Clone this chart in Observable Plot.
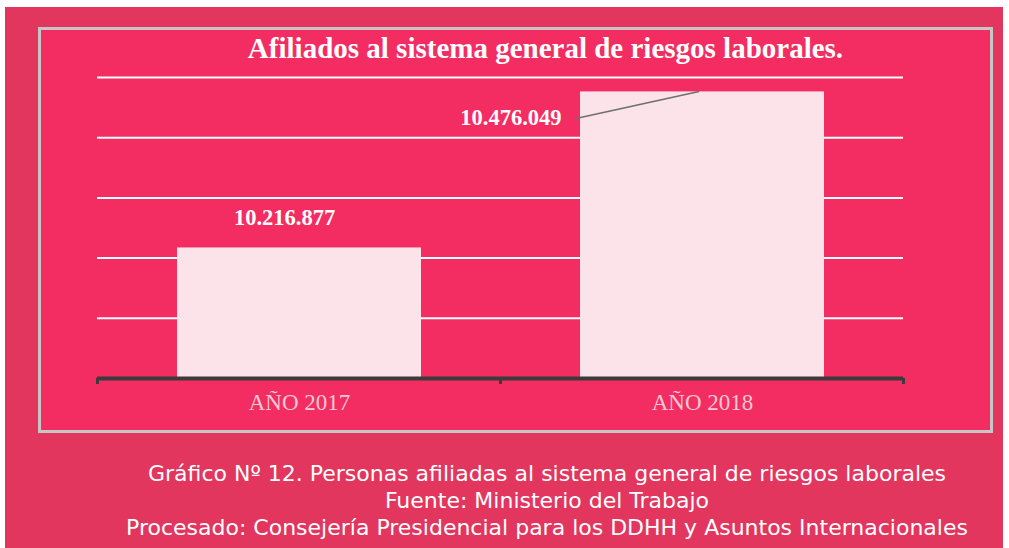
<!DOCTYPE html>
<html><head><meta charset="utf-8">
<script src="https://cdn.jsdelivr.net/npm/d3@7"></script>
<script src="https://cdn.jsdelivr.net/npm/@observablehq/plot@0.6"></script>
<style>
body{margin:0;background:#fff;width:1009px;height:548px;overflow:hidden;position:relative;}
#outer{position:absolute;left:5px;top:7px;width:998px;height:541px;background:#e2365f;}
#inner{position:absolute;left:33px;top:20px;width:955px;height:406px;background:#f32d62;box-shadow:inset 0 0 0 3px #c6c6c6;}
#title{position:absolute;left:30px;top:4px;width:955px;text-align:center;color:#fff;font-family:"Liberation Serif",serif;font-weight:bold;font-size:29px;line-height:34px;white-space:nowrap;}
#chart{position:absolute;left:0;top:0;}
#caption{position:absolute;left:95px;top:453px;width:894px;text-align:center;color:#fff;font-family:"DejaVu Sans",sans-serif;font-size:22px;line-height:27px;white-space:nowrap;}
</style></head>
<body>
<div id="outer">
  <div id="inner"><div id="chart"></div><div id="title"></div></div>
  <div id="caption"></div>
</div>
<script>
const years = ["AÑO 2017", "AÑO 2018"];
const afiliados = [10216877, 10476049];
const valueLabels = ["10.216.877", "10.476.049"];
const gridValues = [10100000, 10200000, 10300000, 10400000, 10500000];
const yDomain = [10000000, 10500000];
const titleText = "Afiliados al sistema general de riesgos laborales.";
const captionLines = [
  "Gráfico Nº 12. Personas afiliadas al sistema general de riesgos laborales",
  "Fuente: Ministerio del Trabajo",
  "Procesado: Consejería Presidencial para los DDHH y Asuntos Internacionales"
];

const data = years.map((y, i) => ({year: y, value: afiliados[i], label: valueLabels[i]}));

document.getElementById("title").textContent = titleText;
document.getElementById("caption").innerHTML = captionLines.map(s => `<div>${s}</div>`).join("");

function bandTicks(index, scales) {
  const x = scales.x, y = scales.y;
  const step = x.step(), bw = x.bandwidth(), gap = (step - bw) / 2;
  const xs = [x(years[0]) - gap, ...years.map(d => x(d) + bw + gap)];
  const y0 = y(yDomain[0]);
  const g = d3.create("svg:g");
  g.selectAll("line").data(xs).join("line")
    .attr("x1", d => d).attr("x2", d => d)
    .attr("y1", y0).attr("y2", y0 + 6)
    .attr("stroke", "#3b3b3b").attr("stroke-width", 3);
  return g.node();
}

function leader(index, scales) {
  const x = scales.x, y = scales.y, bw = x.bandwidth();
  const yTop = y(afiliados[1]);
  const g = d3.create("svg:g");
  g.append("line")
    .attr("x1", x(years[1]) - 4).attr("y1", yTop + 27)
    .attr("x2", x(years[1]) + bw / 2 - 3).attr("y2", yTop)
    .attr("stroke", "#6f6f6f").attr("stroke-width", 1.6);
  return g.node();
}

const labelStyle = {fill: "#fff", fontFamily: "Liberation Serif", fontWeight: "bold", fontSize: 22.5};

const chart = Plot.plot({
  width: 955, height: 406,
  marginLeft: 59, marginRight: 90, marginTop: 50, marginBottom: 55,
  x: {domain: years, paddingInner: 0.395, paddingOuter: 0.1975},
  y: {domain: yDomain, axis: null},
  style: {background: "transparent", overflow: "visible"},
  marks: [
    Plot.ruleY(gridValues, {stroke: "#fff", strokeWidth: 2}),
    Plot.barY(data, {x: "year", y1: () => yDomain[0], y2: "value", fill: "#fbe3e9"}),
    Plot.ruleY([yDomain[0]], {stroke: "#3b3b3b", strokeWidth: 4}),
    bandTicks,
    Plot.axisX({tickSize: 0, tickPadding: 15, label: null, fontSize: 23, fontFamily: "Liberation Serif", fill: "#f8c8d4"}),
    Plot.text(data.filter((d, i) => i === 0), {x: "year", y: "value", text: "label", dx: -15, dy: -30, ...labelStyle}),
    Plot.text(data.filter((d, i) => i === 1), {x: "year", y: "value", text: "label", dx: -141, dy: 26, textAnchor: "end", ...labelStyle}),
    leader
  ]
});
document.getElementById("chart").appendChild(chart);
</script>
</body></html>
